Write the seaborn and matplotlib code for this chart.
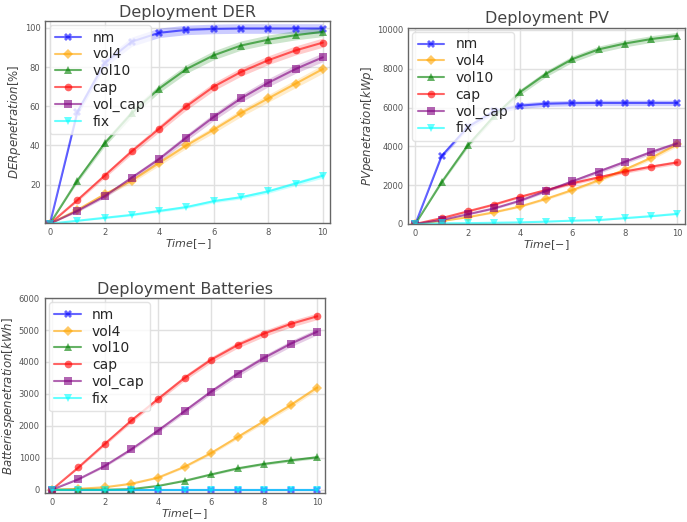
import numpy as np
import pandas as pd
import matplotlib
matplotlib.use("Agg")
import matplotlib.pyplot as plt
import seaborn as sns

TIME = list(range(11))
SCENARIOS = ["nm", "vol4", "vol10", "cap", "vol_cap", "fix"]
COLORS = {"nm": "blue", "vol4": "orange", "vol10": "green",
          "cap": "red", "vol_cap": "purple", "fix": "cyan"}
MARKERS = {"nm": "X", "vol4": "D", "vol10": "^", "cap": "o", "vol_cap": "s", "fix": "v"}

# DER penetration [%]
der_nm = [0, 57, 82, 93, 97.5, 99, 99.5, 99.7, 99.7, 99.7, 99.7]
der_vol4 = [0, 7, 15, 22, 31, 40, 48, 56.5, 64, 71.5, 79]
der_vol10 = [0, 22, 41, 56.5, 69, 79, 86, 91, 94, 96.3, 98]
der_cap = [0, 12, 24.5, 37, 48.5, 60, 70, 77.5, 83.5, 88.5, 92.5]
der_vol_cap = [0, 6.5, 14, 23.5, 33, 44, 54.5, 64, 72, 79, 85]
der_fix = [0, 1.5, 3, 4.5, 6.5, 8.5, 11.5, 13.5, 16.5, 20.5, 24.5]

# PV penetration [kWp]
pv_nm = [0, 3500, 5000, 5800, 6100, 6200, 6230, 6240, 6240, 6240, 6240]
pv_vol4 = [0, 150, 350, 600, 900, 1300, 1750, 2250, 2800, 3400, 4100]
pv_vol10 = [0, 2150, 4050, 5550, 6800, 7750, 8500, 9000, 9300, 9530, 9700]
pv_cap = [0, 300, 650, 1000, 1400, 1750, 2100, 2400, 2700, 2950, 3170]
pv_vol_cap = [0, 200, 500, 800, 1200, 1700, 2200, 2700, 3200, 3700, 4150]
pv_fix = [0, 30, 40, 60, 80, 120, 170, 200, 300, 400, 520]

# Batteries penetration [kWh]
bat_nm = [0, 0, 0, 0, 0, 0, 0, 0, 0, 0, 0]
bat_vol4 = [0, 30, 80, 190, 380, 720, 1150, 1650, 2150, 2650, 3200]
bat_vol10 = [0, 0, 0, 20, 120, 280, 480, 670, 810, 920, 1020]
bat_cap = [0, 700, 1440, 2170, 2840, 3500, 4070, 4530, 4890, 5190, 5430]
bat_vol_cap = [0, 330, 750, 1270, 1850, 2460, 3070, 3630, 4130, 4570, 4950]
bat_fix = [0, 0, 0, 0, 0, 0, 0, 0, 0, 0, 0]


def to_frame(series):
    rows = []
    for name, vals in zip(SCENARIOS, series):
        for t, v in zip(TIME, vals):
            rows.append({"time": t, "value": v, "scenario": name})
    return pd.DataFrame(rows)


def draw_panel(ax, series, title, ylabel, band, ylim, yticks, xlim):
    df = to_frame(series)
    for name in SCENARIOS:
        sub = df[df["scenario"] == name]
        # rough uncertainty band, widens with the value
        w = band * np.sqrt(sub["value"].clip(lower=0) / ylim[1])
        ax.fill_between(sub["time"], sub["value"] - w, sub["value"] + w,
                        color=COLORS[name], alpha=0.2, linewidth=0)
        sns.lineplot(data=sub, x="time", y="value", ax=ax, color=COLORS[name],
                     marker=MARKERS[name], markersize=5.5, markeredgewidth=0,
                     linewidth=1.5, alpha=0.6, label=name)
    ax.set_title(title, fontsize=11.5, color="#444444", pad=3)
    ax.set_xlabel(r"$Time[-]$", fontsize=8, color="#444444", labelpad=0)
    ax.set_ylabel(ylabel, fontsize=8.5, color="#444444", labelpad=1)
    ax.set_xlim(*xlim)
    ax.set_ylim(*ylim)
    ax.set_xticks([0, 2, 4, 6, 8, 10])
    ax.set_yticks(yticks)
    ax.tick_params(labelsize=6, colors="#555555", length=2.5, width=0.8, pad=1)
    ax.grid(True, color="#e0e0e0", linewidth=1.0)
    ax.legend(loc="upper left", fontsize=10, framealpha=0.8, edgecolor="#dddddd",
              handlelength=1.9, borderaxespad=0.3, labelspacing=0.2)
    for s in ax.spines.values():
        s.set_edgecolor("#666666")
        s.set_linewidth(1.0)


sns.set_theme(style="whitegrid")
plt.rcParams["font.family"] = ["DejaVu Sans"]

fig = plt.figure(figsize=(6.87, 5.22), dpi=100)
ax1 = fig.add_axes([0.066, 0.573, 0.415, 0.387])
ax2 = fig.add_axes([0.594, 0.571, 0.403, 0.376])
ax3 = fig.add_axes([0.065, 0.055, 0.408, 0.374])

draw_panel(ax1, [der_nm, der_vol4, der_vol10, der_cap, der_vol_cap, der_fix],
           "Deployment DER", r"$DER penetration[\%]$", 2.5,
           (0.4, 103.6), [20, 40, 60, 80, 100], (-0.17, 10.28))
draw_panel(ax2, [pv_nm, pv_vol4, pv_vol10, pv_cap, pv_vol_cap, pv_fix],
           "Deployment PV", r"$PV penetration[kWp]$", 180,
           (0, 10120), [0, 2000, 4000, 6000, 8000, 10000], (-0.28, 10.3))
draw_panel(ax3, [bat_nm, bat_vol4, bat_vol10, bat_cap, bat_vol_cap, bat_fix],
           "Deployment Batteries", r"$Batteries penetration[kWh]$", 110,
           (-110, 6000), [0, 1000, 2000, 3000, 4000, 5000, 6000], (-0.27, 10.29))

fig.savefig("out.png", dpi=100)
